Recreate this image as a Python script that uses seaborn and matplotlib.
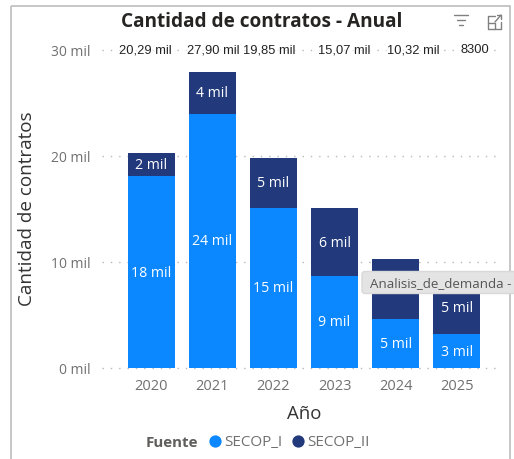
import pandas as pd
import matplotlib
matplotlib.use("Agg")
import matplotlib.pyplot as plt
from matplotlib.patches import FancyBboxPatch, Rectangle
import seaborn as sns

# datos (miles de contratos)
anios = ["2020", "2021", "2022", "2023", "2024", "2025"]
total = [20.29, 27.90, 19.85, 15.07, 10.32, 8.30]
secop_1 = [18.1, 24.0, 15.1, 8.7, 4.6, 3.2]
etiquetas_total = ["20,29 mil", "27,90 mil", "19,85 mil", "15,07 mil", "10,32 mil", "8300"]
etiquetas_1 = ["18 mil", "24 mil", "15 mil", "9 mil", "5 mil", "3 mil"]
etiquetas_2 = ["2 mil", "4 mil", "5 mil", "6 mil", "6 mil", "5 mil"]
ticks_y = [0, 10, 20, 30]

AZUL = "#0B88FF"
MARINO = "#223A7C"
GRIS = "#707070"

sns.set_theme(style="white")
plt.rcParams["font.family"] = ["Open Sans", "DejaVu Sans"]

df = pd.DataFrame({"anio": anios, "total": total, "secop_1": secop_1})

W, H = 514, 460
fig = plt.figure(figsize=(W / 100, H / 100), dpi=100)
ax = fig.add_axes([102 / W, 1 - 369 / H, 400 / W, 318 / H])

# barras apiladas: total detras, SECOP_I delante
sns.barplot(data=df, x="anio", y="total", color=MARINO, saturation=1, width=0.77, linewidth=0, ax=ax)
sns.barplot(data=df, x="anio", y="secop_1", color=AZUL, saturation=1, width=0.77, linewidth=0, ax=ax)

ax.set_xlim(-0.808, 5.742)
ax.set_ylim(0, 30)
ax.set_yticks(ticks_y)
ax.set_yticklabels([f"{v} mil" for v in ticks_y], fontsize=10, color=GRIS)
ax.tick_params(axis="x", labelsize=10.5, labelcolor=GRIS, length=0, pad=7)
ax.tick_params(axis="y", length=0, pad=8.5)
ax.grid(axis="y", color="#B8B8B8", linestyle=(0, (1, 5)), linewidth=1)
ax.set_axisbelow(True)
for g in ax.get_ygridlines():
    g.set_clip_on(False)
sns.despine(ax=ax, left=True, bottom=True, top=True, right=True)
ax.set_xlabel("Año", fontsize=13.4, color="#333333")
ax.set_ylabel("Cantidad de contratos", fontsize=13.6, color="#333333")
ax.xaxis.set_label_coords(0.505, -0.112)
ax.yaxis.set_label_coords(-0.165, 0.503)

# las etiquetas de total no van centradas sobre su barra (desplazamiento en pixeles)
desplaza_total = [-6.5, 1, -4, 10, 17.5, 18]
for i in range(len(anios)):
    ax.text(i, secop_1[i] / 2, etiquetas_1[i], color="white", fontsize=10.2, ha="center", va="center")
    ax.text(i, (secop_1[i] + total[i]) / 2, etiquetas_2[i], color="white", fontsize=10.2, ha="center", va="center")
    ax.annotate(etiquetas_total[i], (i, 30), xytext=(desplaza_total[i] * 0.72, 0.5), textcoords="offset points",
                color="#222222", fontsize=9.3, ha="center", va="center",
                family=["Liberation Sans"], annotation_clip=False,
                bbox=dict(facecolor="white", edgecolor="none", pad=0.6, alpha=0.6))

# capa en pixeles: marco, iconos, tooltip y leyenda
capa = fig.add_axes([0, 0, 1, 1], zorder=5)
capa.set_xlim(0, W)
capa.set_ylim(H, 0)
capa.axis("off")
capa.patch.set_alpha(0)

capa.add_patch(Rectangle((10.5, 6.5), 499.5, 470, fill=False, edgecolor="#BDBDBD", linewidth=1.2))
capa.text(261.5, 22, "Cantidad de contratos - Anual", fontsize=13.7, fontweight="bold", color="#252423",
          ha="center", va="center")

# icono filtro
for y0, x0, x1 in [(16, 454, 468), (21, 457, 465), (26, 459, 463)]:
    capa.plot([x0, x1], [y0, y0], color="#808080", lw=1)
# icono expandir
capa.plot([495, 488, 488, 501, 501], [17, 17, 30, 30, 23], color="#808080", lw=1)
capa.plot([488, 495, 495], [24, 24, 30], color="#808080", lw=1)
capa.plot([495, 501], [23, 16], color="#808080", lw=1)
capa.plot([497, 501, 501], [16, 16, 20], color="#808080", lw=1)

# tooltip
capa.add_patch(FancyBboxPatch((362, 272.5), 170, 22, boxstyle="round,pad=0,rounding_size=3",
                              facecolor="#E4E4E4", edgecolor="#D8D8D8", linewidth=1))
capa.text(369.5, 283.5, "Analisis_de_demanda -", fontsize=9.6, color="#555555", va="center")

# leyenda
capa.text(145.5, 443, "Fuente", fontsize=10.9, fontweight="bold", color="#605E5C", va="center")
capa.scatter([215], [442], s=78, color=AZUL, linewidths=0)
capa.text(224, 443, "SECOP_I", fontsize=11, color=GRIS, va="center")
capa.scatter([298], [442], s=78, color=MARINO, linewidths=0)
capa.text(307, 443, "SECOP_II", fontsize=11, color=GRIS, va="center")

fig.savefig("out.png", dpi=100)
plt.close(fig)
